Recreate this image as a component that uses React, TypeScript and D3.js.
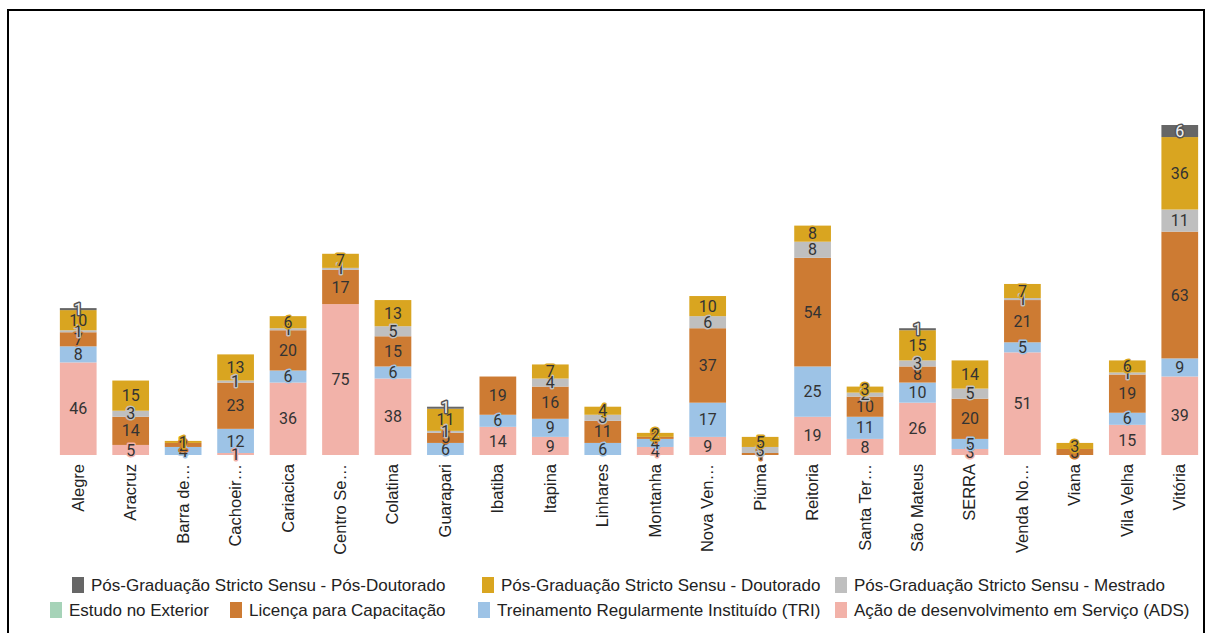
import React from "react";
import * as d3 from "d3";

const categories = [
  "Alegre", "Aracruz", "Barra de…", "Cachoeir…", "Cariacica", "Centro Se…", "Colatina",
  "Guarapari", "Ibatiba", "Itapina", "Linhares", "Montanha", "Nova Ven…", "Piúma",
  "Reitoria", "Santa Ter…", "São Mateus", "SERRA", "Venda No…", "Viana", "Vila Velha", "Vitória",
];

const seriesNames = [
  "Ação de desenvolvimento em Serviço (ADS)",
  "Treinamento Regularmente Instituído (TRI)",
  "Licença para Capacitação",
  "Estudo no Exterior",
  "Pós-Graduação Stricto Sensu - Mestrado",
  "Pós-Graduação Stricto Sensu - Doutorado",
  "Pós-Graduação Stricto Sensu - Pós-Doutorado",
];

const ads = [46, 5, 0, 1, 36, 75, 38, 0, 14, 9, 0, 4, 9, 0, 19, 8, 26, 3, 51, 0, 15, 39];
const tri = [8, 0, 4, 12, 6, 0, 6, 6, 6, 9, 6, 4, 17, 0, 25, 11, 10, 5, 5, 0, 6, 9];
const licenca = [7, 14, 2, 23, 20, 17, 15, 5, 19, 16, 11, 1, 37, 1, 54, 10, 8, 20, 21, 3, 19, 63];
const exterior = [0, 0, 0, 0, 0, 0, 0, 0, 0, 0, 0, 0, 0, 0, 0, 0, 0, 0, 0, 0, 0, 0];
const mestrado = [1, 3, 0, 1, 1, 1, 5, 1, 0, 4, 3, 0, 6, 3, 8, 2, 3, 5, 1, 0, 1, 11];
const doutorado = [10, 15, 1, 13, 6, 7, 13, 11, 0, 7, 4, 2, 10, 5, 8, 3, 15, 14, 7, 3, 6, 36];
const posdoc = [1, 0, 0, 0, 0, 0, 0, 1, 0, 0, 0, 0, 0, 0, 0, 0, 1, 0, 0, 0, 0, 6];

const seriesValues = [ads, tri, licenca, exterior, mestrado, doutorado, posdoc];
const colors = ["#F2B2A9", "#9DC3E6", "#CD7B33", "#A6D3B8", "#BFBFBF", "#D9A520", "#666666"];

// legend layout: [seriesIndex, x, y]
const legendItems: [number, number, number][] = [
  [6, 72, 585], [5, 482, 585], [4, 835, 585],
  [3, 50, 610], [2, 230, 610], [1, 478, 610], [0, 835, 610],
];

export default function App() {
  const W = 1207, H = 633;
  const x = d3.scaleBand().domain(categories).range([52, 1206]).paddingInner(0.3).paddingOuter(0.15);
  const y = d3.scaleLinear().domain([0, 164]).range([455, 125]);

  const rows = categories.map((c, i) => {
    const r: any = { cat: c };
    seriesNames.forEach((s, k) => (r[s] = seriesValues[k][i]));
    return r;
  });
  const stacked = d3.stack().keys(seriesNames)(rows);

  return (
    <svg width={W} height={H} style={{ position: "absolute", left: 0, top: 0, background: "#fff" }}>
      <rect x={8} y={10} width={1196} height={640} fill="none" stroke="#000" strokeWidth={2} />
      {stacked.map((layer, k) => (
        <g key={k}>
          {layer.map((d, i) => {
            const v = seriesValues[k][i];
            if (!v) return null;
            return (
              <rect key={i} x={x(categories[i])} y={y(d[1])} width={x.bandwidth()}
                height={y(d[0]) - y(d[1])} fill={colors[k]} />
            );
          })}
        </g>
      ))}
      {stacked.map((layer, k) => (
        <g key={"l" + k}>
          {layer.map((d, i) => {
            const v = seriesValues[k][i];
            if (!v) return null;
            const cx = (x(categories[i]) as number) + x.bandwidth() / 2;
            const cy = (y(d[0]) + y(d[1])) / 2;
            const dark = k === 6;
            return (
              <text key={i} x={cx} y={cy} dy="0.35em" textAnchor="middle"
                fontFamily="Roboto, sans-serif" fontSize={16}
                fill={dark ? "#f2f2f2" : "#333"} stroke={dark ? "#555" : colors[k]}
                strokeWidth={3} style={{ paintOrder: "stroke" }} strokeLinejoin="round">
                {v}
              </text>
            );
          })}
        </g>
      ))}
      {categories.map((c, i) => {
        const cx = (x(c) as number) + x.bandwidth() / 2;
        return (
          <text key={c} transform={`translate(${cx + 5.5},464) rotate(-90)`} textAnchor="end"
            fontFamily="'Liberation Sans', Arial, sans-serif" fontSize={16.5} fill="#222">
            {c}
          </text>
        );
      })}
      {legendItems.map(([k, lx, ly]) => (
        <g key={"lg" + k}>
          <rect x={lx} y={ly - 8} width={12} height={16} fill={colors[k]} />
          <text x={lx + 19} y={ly} dy="0.35em" fontFamily="'Liberation Sans', Arial, sans-serif"
            fontSize={17} fill="#222">
            {seriesNames[k]}
          </text>
        </g>
      ))}
    </svg>
  );
}
